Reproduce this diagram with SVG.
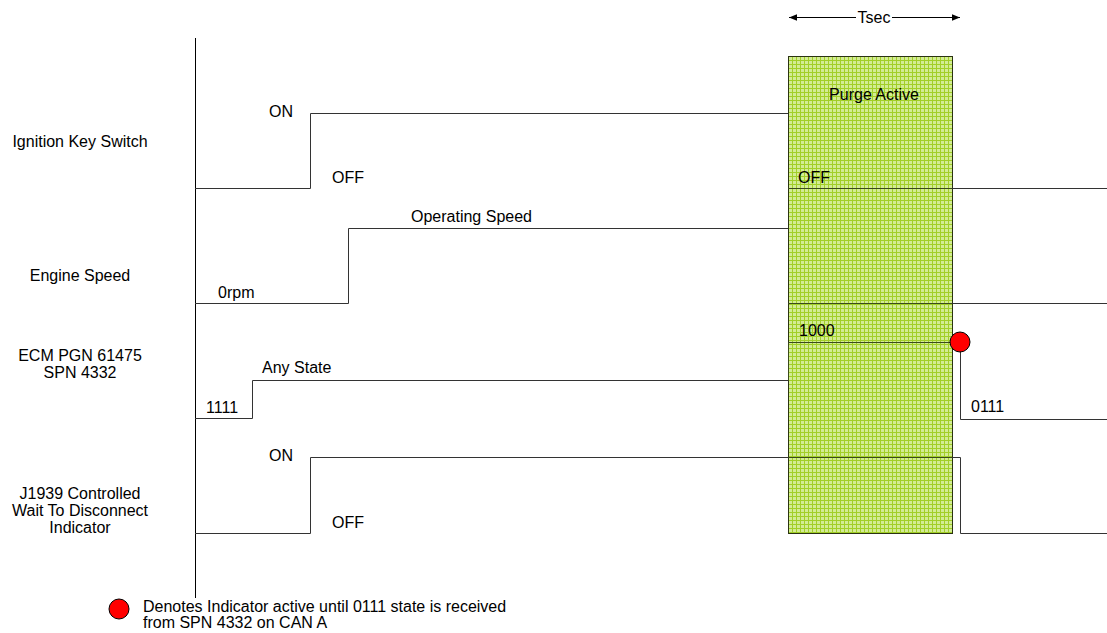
<svg xmlns="http://www.w3.org/2000/svg" width="1107" height="633" viewBox="0 0 1107 633">
  <style>
    text { font-family: "Liberation Sans", Arial, sans-serif; font-size: 16px; fill: #000; }
    .mid { text-anchor: middle; }
    .sig { fill: none; stroke: #333; stroke-width: 1; }
    .sig-in { fill: none; stroke: #3a4a1a; stroke-width: 1; }
    .axis { fill: none; stroke: #000; stroke-width: 1; }
    .dot { fill: #ff0000; stroke: #000; stroke-width: 1; }
  </style>
  <defs>
    <!-- fine green grid fill of the purge window -->
    <pattern id="grid" x="788" y="56" width="4" height="4" patternUnits="userSpaceOnUse">
      <rect width="4" height="4" fill="#d3ec94"/>
      <path d="M0 0.5H4M0.5 0V4" stroke="#a2cf28" stroke-width="1"/>
    </pattern>
    <marker id="arr" viewBox="0 0 10 10" refX="10" refY="5" markerWidth="8" markerHeight="8" orient="auto-start-reverse" markerUnits="userSpaceOnUse">
      <path d="M0 1L10 5L0 9z" fill="#000"/>
    </marker>
  </defs>

  <!-- time axis -->
  <line class="axis" x1="195.5" y1="38" x2="195.5" y2="598"/>

  <!-- purge window -->
  <g id="purge">
    <rect x="788.5" y="56.5" width="164" height="477" fill="url(#grid)" stroke="#2a3312" stroke-width="1"/>
    <text class="mid" x="874" y="100">Purge Active</text>
  </g>

  <!-- Tsec span -->
  <g id="tsec">
    <line class="axis" x1="856" y1="17.5" x2="789" y2="17.5" marker-end="url(#arr)"/>
    <line class="axis" x1="892" y1="17.5" x2="960" y2="17.5" marker-end="url(#arr)"/>
    <text class="mid" x="874" y="23">Tsec</text>
  </g>

  <!-- signal row labels -->
  <g id="label-ignition"><text class="mid" x="80" y="147">Ignition Key Switch</text></g>
  <g id="label-engine"><text class="mid" x="80" y="281">Engine Speed</text></g>
  <g id="label-ecm">
    <text class="mid" x="80" y="361">ECM PGN 61475</text>
    <text class="mid" x="80" y="378">SPN 4332</text>
  </g>
  <g id="label-j1939">
    <text class="mid" x="80" y="499">J1939 Controlled</text>
    <text class="mid" x="80" y="516">Wait To Disconnect</text>
    <text class="mid" x="80" y="533">Indicator</text>
  </g>

  <!-- signal traces -->
  <g id="connectors">
    <!-- ignition key switch -->
    <path class="sig" d="M195 188.5H310.5V113.5H788"/>
    <path class="sig-in" d="M788 188.5H952"/>
    <path class="sig" d="M952 188.5H1107"/>
    <!-- engine speed -->
    <path class="sig" d="M195 303.5H348.5V228.5H788"/>
    <path class="sig-in" d="M788 303.5H952"/>
    <path class="sig" d="M952 303.5H1107"/>
    <!-- ECM PGN 61475 / SPN 4332 -->
    <path class="sig" d="M195 418.5H252.5V380.5H788.5"/>
    <path class="sig-in" d="M788.5 380.5V342.5H952"/>
    <path class="sig" d="M952 342.5H960.5V419.5H1107"/>
    <!-- J1939 wait-to-disconnect indicator -->
    <path class="sig" d="M195 533.5H310.5V457.5H788"/>
    <path class="sig-in" d="M788 457.5H952"/>
    <path class="sig" d="M952 457.5H960.5V533.5H1107"/>
  </g>

  <!-- state labels -->
  <g id="states">
    <text x="269" y="117">ON</text>
    <text x="332" y="183">OFF</text>
    <text x="798" y="183">OFF</text>
    <text x="411" y="222">Operating Speed</text>
    <text x="218" y="298">0rpm</text>
    <text x="262" y="373">Any State</text>
    <text x="206" y="413">1111</text>
    <text x="799" y="336">1000</text>
    <text x="971" y="412">0111</text>
    <text x="269" y="461">ON</text>
    <text x="332" y="528">OFF</text>
  </g>

  <!-- indicator marker -->
  <g id="marker"><circle class="dot" cx="960" cy="342" r="10"/></g>

  <!-- legend -->
  <g id="legend">
    <circle class="dot" cx="119" cy="609" r="10"/>
    <text x="143" y="612">Denotes Indicator active until 0111 state is received</text>
    <text x="143" y="628">from SPN 4332 on CAN A</text>
  </g>
</svg>
